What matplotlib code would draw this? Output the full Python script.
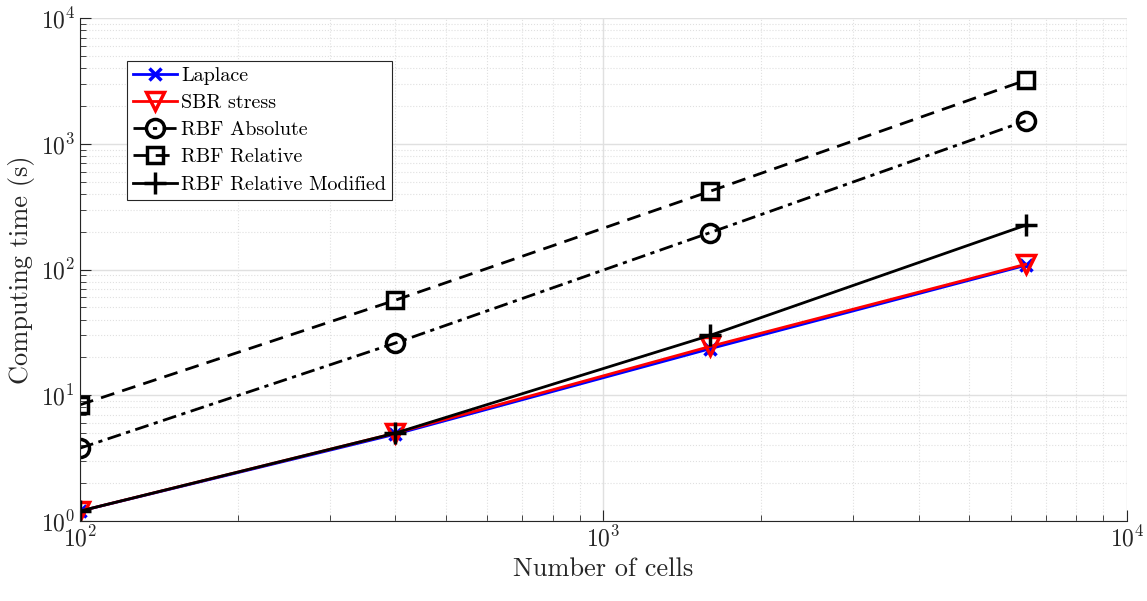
import matplotlib
matplotlib.use("Agg")
import matplotlib.pyplot as plt

plt.rcParams['font.family'] = 'serif'
plt.rcParams['font.serif'] = ['cmr10', 'DejaVu Serif']
plt.rcParams['mathtext.fontset'] = 'cm'
plt.rcParams['axes.unicode_minus'] = False
plt.rcParams['axes.formatter.use_mathtext'] = True

# number of cells
cells = [100, 400, 1600, 6400]

# computing times (s)
laplace = [1.2, 4.9, 23.5, 108]
sbr = [1.2, 5.0, 24.5, 110]
rbf_abs = [3.8, 26, 197, 1520]
rbf_rel = [8.4, 57, 420, 3200]
rbf_mod = [1.2, 5.0, 30, 225]

fig = plt.figure(figsize=(11.47, 6.01), dpi=100)
ax = fig.add_axes([0.0697, 0.133, 0.9129, 0.837])

ax.loglog(cells, laplace, color='blue', lw=2, marker='x', ms=9, mew=2.5, label='Laplace')
ax.loglog(cells, sbr, color='red', lw=2, marker='v', ms=13, mew=2.5, mfc='none', label='SBR stress')
ax.loglog(cells, rbf_abs, color='black', lw=2, ls=(0, (5, 2, 1.5, 2)), marker='o', ms=13, mew=2.5, mfc='none', label='RBF Absolute')
ax.loglog(cells, rbf_rel, color='black', lw=2, ls=(0, (5, 3)), marker='s', ms=11, mew=2.5, mfc='none', label='RBF Relative')
ax.loglog(cells, rbf_mod, color='black', lw=2, marker='+', ms=16, mew=2.5, label='RBF Relative Modified')

ax.set_xlim(100, 1e4)
ax.set_ylim(1, 1e4)

ax.grid(True, which='major', color='#e0e0e0', lw=1, ls='-')
ax.grid(True, which='minor', color='#e0e0e0', lw=0.8, ls=':')
ax.tick_params(which='both', direction='in', colors='#262626', labelsize=17, top=False, right=False)
ax.tick_params(which='major', length=8)
ax.tick_params(which='minor', length=4)
ax.spines['top'].set_visible(False)
ax.spines['right'].set_visible(False)
for s in ['left', 'bottom']:
    ax.spines[s].set_color('#262626')

ax.set_xlabel('Number of cells', fontsize=19, color='#262626')
ax.set_ylabel('Computing time (s)', fontsize=19, color='#262626')

leg = ax.legend(loc='upper left', bbox_to_anchor=(0.045, 0.915), fontsize=14.5,
                fancybox=False, framealpha=1, edgecolor='#262626',
                handlelength=2.2, handletextpad=0.2, borderpad=0.3, labelspacing=0.45,
                borderaxespad=0)
leg.get_frame().set_linewidth(0.8)

fig.savefig('out.png', dpi=100)
